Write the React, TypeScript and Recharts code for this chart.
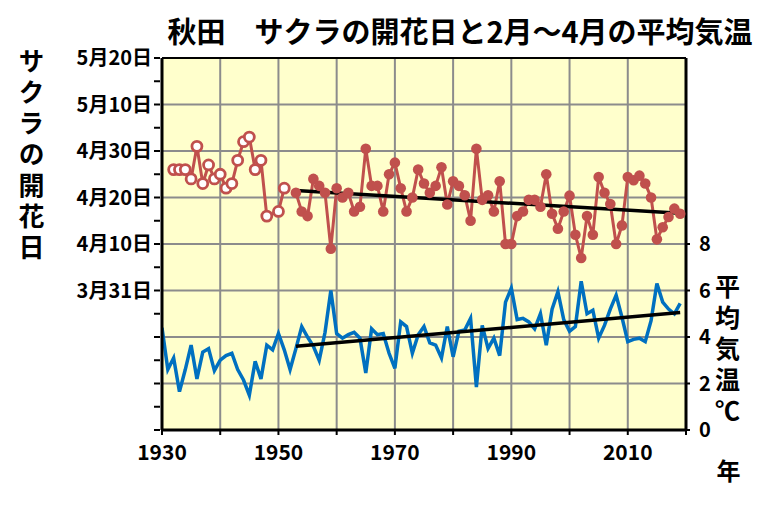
import React from 'react';
import {
  ComposedChart, Line, XAxis, YAxis, ReferenceLine, ReferenceArea,
} from 'recharts';

// Years
const tempYears = Array.from({ length: 90 }, (_, i) => 1930 + i);
// Feb-Apr mean temperature (°C), 1930-2019
const tempValues = [
  4.4, 2.6, 3.1, 1.65, 2.6, 3.65, 2.2, 3.35, 3.5, 2.55,
  3.0, 3.2, 3.3, 2.6, 2.15, 1.5, 2.95, 2.2, 3.65, 3.45,
  4.15, 3.45, 2.6, 3.5, 4.45, 4.0, 3.6, 3.0, 4.2, 6.0,
  4.15, 3.95, 4.1, 4.2, 3.95, 2.45, 4.35, 4.1, 4.15, 3.3,
  2.65, 4.65, 4.45, 3.3, 4.1, 4.45, 3.75, 3.65, 3.1, 4.45,
  3.15, 4.25, 4.3, 4.8, 1.85, 4.5, 3.5, 3.95, 3.2, 5.5,
  6.1, 4.75, 4.8, 4.65, 4.35, 5.0, 3.65, 5.2, 5.95, 4.75,
  4.25, 4.45, 6.4, 5.0, 5.15, 3.95, 4.5, 5.2, 5.8, 4.85,
  3.8, 3.9, 3.95, 3.8, 4.7, 6.3, 5.5, 5.2, 5.0, 5.45,
];

// Bloom day, in days after March 31 (e.g. 20 = April 20)
const oldYears = [1932, 1933, 1934, 1935, 1936, 1937, 1938, 1939, 1940, 1941,
  1942, 1943, 1944, 1945, 1946, 1947, 1948, 1950, 1951];
const oldBloom = [26, 26, 26, 24, 31, 23, 27, 24, 25, 22,
  23, 28, 32, 33, 26, 28, 16, 17, 22];

const newYears = Array.from({ length: 67 }, (_, i) => 1953 + i);
const newBloom = [
  21, 17, 16, 24, 22.5, 21, 9, 22, 20, 21,
  17, 18, 30.5, 22.5, 22.5, 17, 25, 27.5, 22, 17,
  20, 26, 23, 21, 22.5, 26.5, 18.5, 23.5, 22.5, 20.5,
  15, 30.5, 19.5, 20.5, 17, 23.5, 10, 10, 16, 17,
  19.5, 19.5, 18, 25, 16.5, 13.3, 17, 20.4, 12, 7,
  16, 12, 24.4, 21, 18.6, 10, 14, 24.4, 23.7, 24.7,
  23, 20, 11, 13.6, 15.8, 17.6, 16.5,
];

// Trend lines (start / end)
const trendYears = [1953, 2019];
const bloomTrend = [21.5, 16.6];
const tempTrend = [3.6, 5.05];

// Axis ticks
const leftTicks = [-30, -25, -20, -15, -10, -5, 0, 5, 10, 15, 20, 25, 30, 35, 40, 45, 50];
const leftLabelValues = [0, 10, 20, 30, 40, 50];
const leftLabels = ['3月31日', '4月10日', '4月20日', '4月30日', '5月10日', '5月20日'];
const rightTicks = [0, 2, 4, 6, 8];
const xTicks = [1930, 1940, 1950, 1960, 1970, 1980, 1990, 2000, 2010, 2020];
const xLabelValues = [1930, 1950, 1970, 1990, 2010];
const gridDays = [-20, -10, 0, 10, 20, 30, 40];
const gridYears = [1940, 1950, 1960, 1970, 1980, 1990, 2000, 2010];

const title = '秋田　サクラの開花日と2月～4月の平均気温';
const leftTitle = 'サクラの開花日';
const rightTitle = '平均気温℃';
const xTitle = '年';

// Build table
const table: any[] = tempYears.map((y, i) => ({ year: y, temp: tempValues[i] }));
const byYear: Record<number, any> = {};
table.forEach((r) => { byYear[r.year] = r; });
oldYears.forEach((y, i) => { byYear[y].old = oldBloom[i]; });
newYears.forEach((y, i) => { byYear[y].bloom = newBloom[i]; });
trendYears.forEach((y, i) => { byYear[y].bTrend = bloomTrend[i]; byYear[y].tTrend = tempTrend[i]; });

const FONT = '"Noto Sans CJK JP", "Noto Sans", sans-serif';
const RED = '#C0504D';
const BLUE = '#0070C0';

const LeftTick = (props: any) => {
  const { x, y, payload } = props;
  const idx = leftLabelValues.indexOf(payload.value);
  return (
    <g>
      <line x1={x + 2} x2={x + 8} y1={y} y2={y} stroke="#000" strokeWidth={2} />
      {idx >= 0 && (
        <text x={x} y={y} dy={7} textAnchor="end" fontSize={20} fontWeight="bold" fill="#000" fontFamily={FONT}>
          {leftLabels[idx]}
        </text>
      )}
    </g>
  );
};

const RightTick = (props: any) => {
  const { x, y, payload } = props;
  return (
    <text x={x + 7} y={y} dy={7} textAnchor="start" fontSize={20} fontWeight="bold" fill="#000" fontFamily={FONT}>
      {payload.value}
    </text>
  );
};

const XTick = (props: any) => {
  const { x, y, payload } = props;
  const show = xLabelValues.includes(payload.value);
  return (
    <g>
      {show && (
        <text x={x} y={y + 23} textAnchor="middle" fontSize={21} fontWeight="bold" fill="#000" fontFamily={FONT}>
          {payload.value}
        </text>
      )}
    </g>
  );
};

const HollowDot = (props: any) => {
  const { cx, cy, value } = props;
  if (value == null || cx == null) return null;
  return <circle cx={cx} cy={cy} r={5} fill="#fff" stroke={RED} strokeWidth={2.8} />;
};

const FilledDot = (props: any) => {
  const { cx, cy, value } = props;
  if (value == null || cx == null) return null;
  return <circle cx={cx} cy={cy} r={5.3} fill={RED} stroke="none" />;
};

const vText = (chars: string, left: number, top: number, spacing: number, size: number) => (
  <div style={{
    position: 'absolute', left: left - size / 2, top, width: size,
    writingMode: 'vertical-rl', textOrientation: 'upright', letterSpacing: `${spacing}px`,
    lineHeight: `${size}px`, fontSize: size, fontWeight: 'bold', fontFamily: FONT, color: '#000',
    whiteSpace: 'nowrap',
  }}>{chars}</div>
);

export default function App() {
  return (
    <div style={{ position: 'relative', width: 760, height: 509 }}>
      <ComposedChart
        width={760}
        height={509}
        data={table}
        margin={{ top: 50, right: 52, left: 84, bottom: 57 }}
      >
        <XAxis
          dataKey="year"
          type="number"
          domain={[1930, 2020]}
          ticks={xTicks}
          interval={0}
          tick={<XTick />}
          tickLine={{ stroke: '#000', strokeWidth: 2 }}
          tickSize={5}
          axisLine={{ stroke: '#000', strokeWidth: 3 }}
          height={30}
          allowDataOverflow
        />
        <YAxis
          yAxisId="left"
          orientation="left"
          type="number"
          domain={[-30, 50]}
          ticks={leftTicks}
          interval={0}
          tick={<LeftTick />}
          tickLine={false}
          axisLine={{ stroke: '#000', strokeWidth: 3 }}
          width={70}
          tickSize={8}
          allowDataOverflow
        />
        <YAxis
          yAxisId="right"
          orientation="right"
          type="number"
          domain={[0, 16]}
          ticks={rightTicks}
          interval={0}
          tick={<RightTick />}
          tickLine={{ stroke: '#000', strokeWidth: 2 }}
          tickSize={4}
          axisLine={{ stroke: '#000', strokeWidth: 3 }}
          width={30}
          allowDataOverflow
        />
        <ReferenceArea yAxisId="left" x1={1930} x2={2020} y1={-30} y2={50} fill="#FFFFCC" fillOpacity={1} stroke="none" />
        {gridDays.map((d) => (
          <ReferenceLine key={'gd' + d} yAxisId="left" y={d} stroke="#8C8C8C" strokeWidth={2} />
        ))}
        {gridYears.map((yr) => (
          <ReferenceLine key={'gy' + yr} yAxisId="left" x={yr} stroke="#8C8C8C" strokeWidth={2} />
        ))}
        <ReferenceLine yAxisId="left" y={50} stroke="#000" strokeWidth={2} />
        <Line yAxisId="right" dataKey="temp" stroke={BLUE} strokeWidth={3.5} dot={false} isAnimationActive={false} />
        <Line yAxisId="right" dataKey="tTrend" stroke="#000" strokeWidth={3.5} dot={false} connectNulls isAnimationActive={false} />
        <Line yAxisId="left" dataKey="old" stroke={RED} strokeWidth={3} dot={<HollowDot />} connectNulls isAnimationActive={false} />
        <Line yAxisId="left" dataKey="bloom" stroke={RED} strokeWidth={3} dot={<FilledDot />} connectNulls isAnimationActive={false} />
        <Line yAxisId="left" dataKey="bTrend" stroke="#000" strokeWidth={3.5} dot={false} connectNulls isAnimationActive={false} />
      </ComposedChart>
      <div style={{
        position: 'absolute', left: 152, top: 1, width: 600, textAlign: 'center',
        fontSize: 29, fontWeight: 'bold', fontFamily: FONT, color: '#000', whiteSpace: 'nowrap',
      }}>{title}</div>
      {vText(leftTitle, 23, 40, 5, 26)}
      {vText(rightTitle, 719, 266, 6, 25)}
      {vText(xTitle, 720, 451, 0, 24)}
    </div>
  );
}
